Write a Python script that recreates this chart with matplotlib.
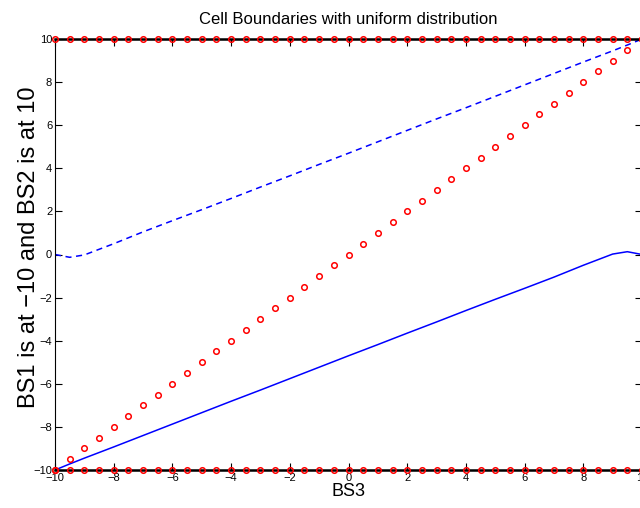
import numpy as np
import matplotlib; matplotlib.use("Agg")
import matplotlib.pyplot as plt

plt.rcParams['font.family'] = ['Liberation Sans', 'DejaVu Sans']

# ─── data ────────────────────────────────────────────────────────────────────
grid_x = np.arange(-10, 10.01, 0.5)          # red circle positions (step 0.5)
bs1_y = -10.0
bs2_y = 10.0

curve_x = [-10, -9.5, -9, -8, -7, -6, -5, -4, -3, -2, -1, 0,
           1, 2, 3, 4, 5, 6, 7, 8, 9, 9.5, 10]
upper_y = [0.0, -0.13, -0.02, 0.5, 1.05, 1.57, 2.08, 2.6, 3.13, 3.65, 4.18, 4.7,
           5.23, 5.76, 6.29, 6.81, 7.34, 7.87, 8.4, 8.93, 9.45, 9.72, 10.0]
# lower boundary is the point-mirror of the upper one
lower_x = [-x for x in curve_x[::-1]]
lower_y = [-y for y in upper_y[::-1]]

fig = plt.figure(figsize=(6.4, 5.08), dpi=100)
ax = fig.add_axes([55/640, 1 - 470/508, 587/640, 431/508])

ax.plot(curve_x, upper_y, color="blue", lw=1.1, dashes=(4, 3))
ax.plot(lower_x, lower_y, color="blue", lw=1.1)

for yb in (bs1_y, bs2_y):
    ax.plot([-10, 10], [yb, yb], color="black", lw=1.8, clip_on=False, zorder=3)
    ax.plot(grid_x, np.full_like(grid_x, yb), "o", ms=4, mfc="none",
            mec="red", mew=1.1, clip_on=False, zorder=4)
ax.plot(grid_x, grid_x, "o", ms=4, mfc="none", mec="red", mew=1.1,
        clip_on=False, zorder=4)

ax.set_xlim(-10, 10); ax.set_ylim(-10, 10)
ax.set_xticks(np.arange(-10, 11, 2)); ax.set_yticks(np.arange(-10, 11, 2))
ax.tick_params(direction="in", length=5, width=0.8, labelsize=8, pad=2,
               top=True, right=True)
for s in ax.spines.values():
    s.set_linewidth(0.8)

ax.set_title("Cell Boundaries with uniform distribution", fontsize=12, pad=11)
ax.set_xlabel("BS3", fontsize=13, labelpad=0)
ax.set_ylabel("BS1 is at \u221210 and BS2 is at 10", fontsize=17)
ax.yaxis.set_label_coords(-0.026, 0.517)

plt.savefig("out.png", dpi=100); plt.close()
